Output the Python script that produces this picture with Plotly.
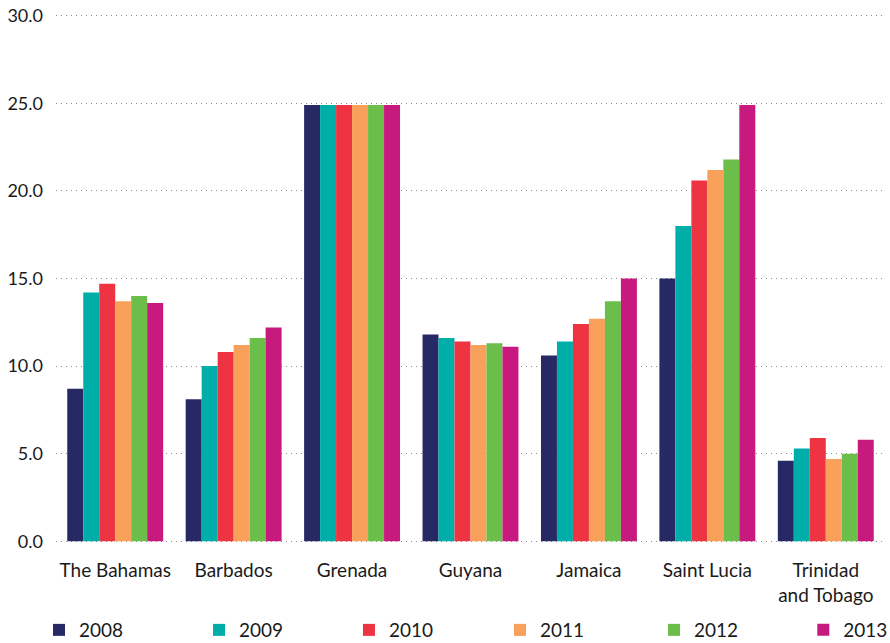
import plotly.graph_objects as go

countries = ["The Bahamas", "Barbados", "Grenada", "Guyana", "Jamaica",
             "Saint Lucia", "Trinidad<br>and Tobago"]
years = ["2008", "2009", "2010", "2011", "2012", "2013"]

v2008 = [8.7, 8.1, 24.9, 11.8, 10.6, 15.0, 4.6]
v2009 = [14.2, 10.0, 24.9, 11.6, 11.4, 18.0, 5.3]
v2010 = [14.7, 10.8, 24.9, 11.4, 12.4, 20.6, 5.9]
v2011 = [13.7, 11.2, 24.9, 11.2, 12.7, 21.2, 4.7]
v2012 = [14.0, 11.6, 24.9, 11.3, 13.7, 21.8, 5.0]
v2013 = [13.6, 12.2, 24.9, 11.1, 15.0, 24.9, 5.8]

series = [v2008, v2009, v2010, v2011, v2012, v2013]
colors = ["#262964", "#00AEA9", "#EE3342", "#F9A05A", "#6CBE4A", "#C8197E"]

y_ticks = [0, 5, 10, 15, 20, 25, 30]

# one legend box per year, spread evenly along the bottom
legend_x = [-0.0205, 0.1725, 0.3534, 0.5356, 0.7214, 1.01]
legend_anchor = ["left", "left", "left", "left", "left", "right"]

font_family = "Lato, 'Open Sans', sans-serif"

fig = go.Figure()
legend_layouts = {}
for i, (year, vals, col) in enumerate(zip(years, series, colors)):
    key = "legend" if i == 0 else f"legend{i + 1}"
    fig.add_trace(go.Bar(
        name=year, x=countries, y=vals,
        marker=dict(color=col, line=dict(width=0)),
        legend=key,
    ))
    legend_layouts[key] = dict(
        orientation="h", x=legend_x[i], xanchor=legend_anchor[i],
        y=-0.1645, yanchor="middle",
        font=dict(family=font_family, size=19, color="#1a1a1a"),
        bgcolor="rgba(0,0,0,0)",
    )

fig.update_layout(
    width=890, height=643,
    margin=dict(l=56, r=5, t=14, b=100, autoexpand=False),
    paper_bgcolor="white", plot_bgcolor="white",
    barmode="group", bargap=0.19, bargroupgap=0,
    font=dict(family=font_family, size=19, color="#1a1a1a"),
    showlegend=True,
    xaxis=dict(
        showgrid=False, showline=False, zeroline=False,
        ticks="", ticklabelstandoff=14,
        tickfont=dict(size=19),
    ),
    yaxis=dict(
        range=[-0.1, 30.1], tickvals=y_ticks,
        ticktext=[f"{t:.1f}" for t in y_ticks],
        showgrid=True, gridcolor="#8c8c8c", griddash="1px,4px", gridwidth=1,
        zeroline=False, showline=False, ticks="",
        ticklabelstandoff=12,
        tickfont=dict(size=18),
    ),
    **legend_layouts,
)

fig.write_html("out.html")
